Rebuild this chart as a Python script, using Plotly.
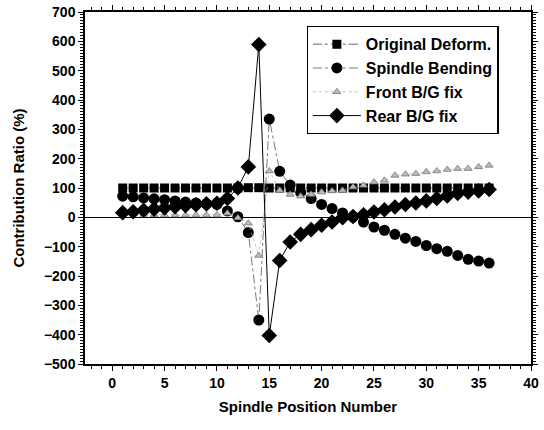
import plotly.graph_objects as go

positions = list(range(1, 37))

original_deform = [100, 100, 100, 100, 100, 100, 100, 100, 100, 100, 100, 100,
                   101, 101, 100, 100, 100, 100, 100, 100, 100, 100, 100, 100,
                   100, 100, 100, 100, 100, 100, 100, 100, 100, 100, 100, 100]

spindle_bending = [72, 70, 66, 63, 60, 56, 52, 49, 46, 44, 22, 2,
                   -52, -350, 335, 157, 110, 85, 64, 44, 30, 15, 1, -16,
                   -33, -44, -58, -71, -82, -96, -107, -116, -130, -143, -149, -156]

front_bg_fix = [12, 11, 10, 9, 8, 8, 8, 8, 8, 8, 14, -2,
                -20, -130, 158, 92, 78, 72, 78, 86, 90, 92, 103, 109,
                120, 126, 143, 147, 149, 155, 158, 163, 166, 166, 172, 177]

rear_bg_fix = [16, 19, 24, 28, 32, 36, 40, 43, 46, 48, 64, 100,
               172, 589, -403, -147, -84, -58, -42, -27, -16, -1, 3, 9,
               18, 26, 35, 44, 49, 56, 64, 73, 81, 86, 90, 95]

x_ticks = [0, 5, 10, 15, 20, 25, 30, 35, 40]
y_ticks = [700, 600, 500, 400, 300, 200, 100, 0, -100, -200, -300, -400, -500]

FONT = "Liberation Sans"

fig = go.Figure()

fig.add_trace(go.Scatter(
    x=positions, y=original_deform, name="Original Deform.",
    mode="lines+markers",
    line=dict(color="#444444", width=0.8, dash="dashdot"),
    marker=dict(symbol="square", size=9, color="black"),
))
fig.add_trace(go.Scatter(
    x=positions, y=spindle_bending, name="Spindle Bending",
    mode="lines+markers",
    line=dict(color="#555555", width=0.8, dash="dashdot"),
    marker=dict(symbol="circle", size=11, color="black"),
))
fig.add_trace(go.Scatter(
    x=positions, y=front_bg_fix, name="Front B/G fix",
    mode="lines+markers",
    line=dict(color="#aaaaaa", width=0.7, dash="dot"),
    marker=dict(symbol="triangle-up", size=7, color="#bbbbbb",
                line=dict(color="#777777", width=0.8)),
))
fig.add_trace(go.Scatter(
    x=positions, y=rear_bg_fix, name="Rear B/G fix",
    mode="lines+markers",
    line=dict(color="black", width=1),
    marker=dict(symbol="diamond", size=12, color="black"),
))

axis_common = dict(
    showline=True, linecolor="black", linewidth=1.5, mirror="allticks",
    ticks="outside", ticklen=5, tickwidth=1.2, tickcolor="black",
    showgrid=False, automargin=False,
    tickfont=dict(family=FONT, size=14, color="black", weight="bold"),
)

fig.update_xaxes(
    range=[-2.6, 40], tickvals=x_ticks, zeroline=False,
    minor=dict(dtick=1, ticks="outside", ticklen=3, tickcolor="black", showgrid=False),
    title=dict(text="Spindle Position Number", standoff=12,
               font=dict(family=FONT, size=15, color="black", weight="bold")),
    **axis_common,
)
fig.update_yaxes(
    range=[-500, 700], tickvals=y_ticks,
    zeroline=True, zerolinecolor="black", zerolinewidth=1.2,
    minor=dict(dtick=10, ticks="outside", ticklen=3, tickcolor="black", showgrid=False),
    title=dict(text="Contribution Ratio (%)", standoff=16,
               font=dict(family=FONT, size=15, color="black", weight="bold")),
    **axis_common,
)

fig.update_layout(
    width=544, height=430,
    margin=dict(l=85, r=13, t=12, b=66),
    plot_bgcolor="white", paper_bgcolor="white",
    legend=dict(
        x=0.497, y=0.96, xanchor="left", yanchor="top",
        bgcolor="white", bordercolor="black", borderwidth=1.2,
        font=dict(family=FONT, size=16, color="black", weight="bold"),
        tracegroupgap=0, itemwidth=48,
    ),
)

# remove the default page margin so the figure sits at the window's corner
fig.write_html("out.html", config={"displayModeBar": False},
               post_script="document.body.style.margin='0';")
